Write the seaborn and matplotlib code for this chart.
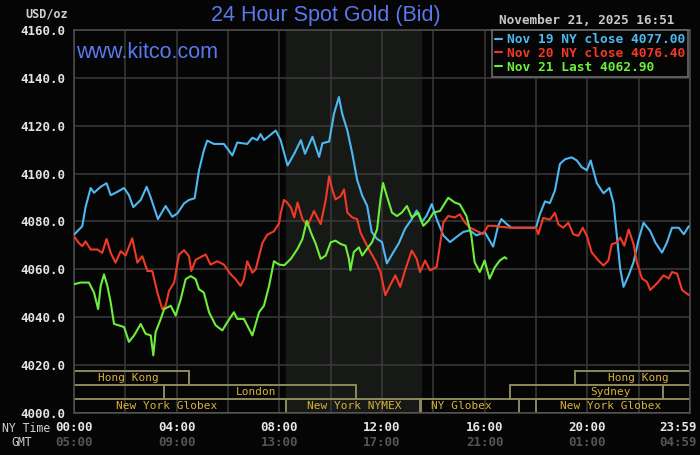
import matplotlib
matplotlib.use("Agg")
import pandas as pd
import seaborn as sns
from matplotlib import pyplot as plt
from matplotlib.patches import Rectangle

# NY-time hours and bid prices
nov19_hours = [0.0, 0.32, 0.45, 0.65, 0.78, 1.04, 1.27, 1.43, 1.69, 1.95, 2.14, 2.31, 2.6, 2.83, 2.99,
               3.27, 3.57, 3.83, 4.03, 4.29, 4.48, 4.7, 4.87, 5.06, 5.19, 5.45, 5.84, 6.17, 6.36, 6.75,
               6.95, 7.14, 7.27, 7.4, 7.86, 8.05, 8.32, 8.58, 8.84, 9.0, 9.29, 9.55, 9.68, 9.94, 10.13,
               10.32, 10.45, 10.65, 10.84, 11.03, 11.23, 11.42, 11.6, 11.8, 12.0, 12.19, 12.45, 12.65,
               12.9, 13.16, 13.35, 13.55, 13.74, 13.94, 14.13, 14.39, 14.65, 14.9, 15.16, 15.42, 15.68,
               16.0, 16.33, 16.52, 16.65, 16.85, 17.04, 18.0, 18.15, 18.35, 18.54, 18.74, 18.93, 19.13,
               19.39, 19.59, 19.78, 19.98, 20.13, 20.37, 20.63, 20.86, 21.02, 21.15, 21.28, 21.41, 21.61,
               21.8, 22.0, 22.19, 22.45, 22.65, 22.91, 23.1, 23.3, 23.56, 23.76, 23.95]
nov19_prices = [4074.5, 4078, 4086, 4094, 4092, 4094.5, 4096, 4091, 4092.4, 4094, 4091, 4086, 4089, 4094.5,
                4090, 4081, 4086.5, 4082, 4083.4, 4087.6, 4089, 4089.7, 4101.4, 4109.7, 4113.8, 4112.4,
                4112.4, 4107.6, 4113, 4112.4, 4115, 4114, 4116.5, 4114, 4118, 4114, 4103.4, 4108.3, 4114,
                4108.3, 4115.4, 4107, 4112.7, 4113.4, 4125, 4132, 4125, 4118, 4108.5, 4097.5, 4090.8,
                4086.6, 4075.6, 4072.8, 4071.4, 4062.5, 4067.3, 4070.8, 4077, 4081, 4084.6, 4079.7,
                4082.5, 4087.3, 4081, 4074.2, 4071.4, 4073.5, 4075.6, 4076.3, 4074.2, 4075.6, 4069.5,
                4078, 4081, 4079, 4077.4, 4077.4, 4083, 4088.4, 4087.7, 4093, 4104, 4106, 4106.8, 4105.5,
                4102.7, 4101.4, 4105.5, 4096, 4091.8, 4094, 4087.7, 4074, 4060.3, 4052.7, 4057.5, 4063,
                4072.6, 4079.5, 4076, 4071.2, 4067, 4071.2, 4077.4, 4077.4, 4074.7, 4078]

nov20_hours = [0.0, 0.19, 0.32, 0.45, 0.65, 0.91, 1.1, 1.27, 1.43, 1.62, 1.82, 2.01, 2.27, 2.47, 2.66,
               2.86, 3.05, 3.25, 3.44, 3.57, 3.7, 3.9, 4.09, 4.29, 4.48, 4.57, 4.74, 5.0, 5.13, 5.32,
               5.58, 5.84, 6.1, 6.3, 6.49, 6.62, 6.75, 6.95, 7.08, 7.34, 7.53, 7.79, 7.99, 8.06, 8.18,
               8.3, 8.45, 8.58, 8.71, 8.9, 9.1, 9.35, 9.61, 9.81, 9.94, 10.06, 10.19, 10.39, 10.52,
               10.65, 10.84, 11.03, 11.16, 11.35, 11.55, 11.74, 11.94, 12.13, 12.32, 12.52, 12.71,
               12.9, 13.16, 13.35, 13.48, 13.68, 13.87, 14.13, 14.39, 14.58, 14.84, 15.03, 15.23,
               15.42, 15.68, 15.94, 16.13, 16.39, 16.6, 17.0, 18.0, 18.09, 18.28, 18.54, 18.74, 18.87,
               19.06, 19.26, 19.45, 19.65, 19.82, 19.98, 20.17, 20.43, 20.63, 20.82, 20.95, 21.15,
               21.28, 21.44, 21.61, 21.8, 21.93, 22.13, 22.32, 22.45, 22.71, 22.97, 23.17, 23.3, 23.5,
               23.69, 23.95]
nov20_prices = [4073.8, 4071, 4069.7, 4071.7, 4068.3, 4068.3, 4066.9, 4072.7, 4066.9, 4062.8, 4067.6,
                4065.8, 4073, 4062.8, 4065.5, 4059.3, 4059.3, 4050.3, 4043.4, 4044.8, 4051, 4054.5,
                4066.2, 4068, 4065.5, 4059.3, 4064, 4065.5, 4066.2, 4062, 4063.4, 4062, 4058, 4055.9,
                4053.1, 4055.9, 4063.4, 4058.6, 4060, 4071, 4074.5, 4075.9, 4079.3, 4083.7, 4089, 4088,
                4085.8, 4081.7, 4087.9, 4081, 4078.2, 4084.4, 4078.9, 4089.2, 4098.9, 4093.4, 4089.2,
                4090.6, 4093.4, 4083.7, 4081.7, 4081, 4075.4, 4071.3, 4067.2, 4063.7, 4058.9, 4049.2,
                4053.4, 4057.5, 4052.7, 4059.6, 4067.9, 4064.4, 4058.9, 4063.7, 4059.6, 4061, 4079.6,
                4082.3, 4081.7, 4083, 4079.6, 4077.5, 4076.1, 4074.8, 4078.2, 4078.2, 4077.8, 4077.4,
                4077.4, 4074.7, 4081.5, 4080.8, 4083.6, 4078.8, 4077.4, 4079.5, 4074.7, 4074, 4077.4,
                4074, 4067.1, 4063.7, 4061.6, 4063.7, 4070.5, 4071.2, 4073.3, 4069.9, 4076.7, 4070.5,
                4063, 4056.2, 4054.8, 4051.4, 4054.1, 4057.5, 4056.2, 4058.9, 4058.2, 4051.4, 4049.3]

nov21_hours = [0.0, 0.26, 0.58, 0.78, 0.94, 1.04, 1.17, 1.3, 1.43, 1.56, 1.75, 1.95, 2.14, 2.34, 2.6,
               2.79, 2.99, 3.09, 3.18, 3.38, 3.51, 3.77, 3.96, 4.16, 4.35, 4.55, 4.74, 4.87, 5.06, 5.26,
               5.52, 5.78, 5.97, 6.23, 6.36, 6.62, 6.95, 7.21, 7.4, 7.6, 7.79, 7.99, 8.19, 8.45, 8.71,
               8.9, 9.07, 9.23, 9.42, 9.61, 9.81, 10.0, 10.19, 10.39, 10.58, 10.71, 10.77, 10.9, 11.1,
               11.23, 11.42, 11.61, 11.81, 11.94, 12.04, 12.19, 12.39, 12.58, 12.77, 12.97, 13.16,
               13.42, 13.61, 13.81, 14.0, 14.26, 14.58, 14.84, 15.03, 15.29, 15.48, 15.61, 15.81, 16.0,
               16.19, 16.39, 16.59, 16.78, 16.85]
nov21_prices = [4053.8, 4054.5, 4054.5, 4050.3, 4043.4, 4053.1, 4057.9, 4053.1, 4046.2, 4037.2, 4036.6,
                4035.9, 4029.7, 4032.4, 4037.2, 4033.1, 4032.4, 4024.1, 4033.8, 4039.3, 4043.4, 4044.8,
                4040.7, 4047.6, 4055.9, 4057.2, 4055.9, 4051.7, 4050.3, 4042.1, 4036.6, 4034.5, 4037.9,
                4042.1, 4039.3, 4039.3, 4032.4, 4042.1, 4044.8, 4053.1, 4063.4, 4062, 4061.7, 4064.4,
                4068.6, 4072.7, 4080.3, 4075.4, 4070.6, 4064.4, 4065.8, 4071.3, 4072, 4070.6, 4069.9,
                4064.4, 4059.6, 4067.2, 4069.2, 4065.8, 4068.6, 4071.3, 4076.8, 4089.2, 4096.1, 4090.6,
                4083.7, 4082.3, 4083.7, 4086.5, 4081.7, 4083.7, 4078.2, 4080.3, 4083.7, 4084.4, 4089.9,
                4087.9, 4087.2, 4082.3, 4074.1, 4063, 4058.9, 4063.7, 4056.1, 4060.8, 4063.7, 4065.1,
                4064.5]

series_names = ["Nov 19 NY close", "Nov 20 NY close", "Nov 21 Last"]
series_values = [4077.00, 4076.40, 4062.90]
series_colors = ["#4db8f0", "#f03a26", "#6cef3a"]

price_ticks = [4000, 4020, 4040, 4060, 4080, 4100, 4120, 4140, 4160]
tick_hours = [0, 4, 8, 12, 16, 20, 23 + 59 / 60]
ny_labels = ["00:00", "04:00", "08:00", "12:00", "16:00", "20:00", "23:59"]
gmt_labels = ["05:00", "09:00", "13:00", "17:00", "21:00", "01:00", "04:59"]

# trading sessions: name, start hour, end hour, row (0 = bottom), label hour
sessions = [
    ("Hong Kong", 0.0, 4.47, 2, 2.1),
    ("London", 3.5, 10.97, 1, 7.1),
    ("New York Globex", 0.0, 8.25, 0, 3.6),
    ("New York NYMEX", 8.25, 13.5, 0, 10.9),
    ("NY Globex", 13.5, 17.33, 0, 15.1),
    ("New York Globex", 18.0, 24.0, 0, 20.9),
    ("Sydney", 17.0, 22.93, 1, 20.9),
    ("Hong Kong", 19.52, 24.0, 2, 22.0),
]
nymex_start, nymex_end = 8.25, 13.5

MONO = "DejaVu Sans Mono"
BG = "#050505"

sns.set_style("dark")
plt.rcParams["font.family"] = ["DejaVu Sans"]

labels = [f"{n} {v:.2f}" for n, v in zip(series_names, series_values)]
frames = []
for lab, hrs, prs in zip(labels, [nov19_hours, nov20_hours, nov21_hours],
                         [nov19_prices, nov20_prices, nov21_prices]):
    frames.append(pd.DataFrame({"hour": hrs, "price": prs, "series": lab}))
df = pd.concat(frames, ignore_index=True)

fig = plt.figure(figsize=(7, 4.55), dpi=100, facecolor=BG)
ax = fig.add_axes([74 / 700, 42 / 455, 616 / 700, 383 / 455])
ax.set_facecolor(BG)

ax.axvspan(nymex_start, nymex_end, color="#171917", zorder=0)

sns.lineplot(data=df, x="hour", y="price", hue="series", palette=dict(zip(labels, series_colors)),
             sort=False, estimator=None, linewidth=1.5, ax=ax, zorder=3)

ax.set_xlim(0, 24)
ax.set_ylim(price_ticks[0], price_ticks[-1])
ax.set_yticks(price_ticks)
ax.set_yticklabels([f"{p:.1f}" for p in price_ticks], fontfamily=MONO, fontweight="bold",
                   fontsize=9, color="#e2e2e2")
ax.set_xticks(tick_hours)
ax.set_xticklabels([])
ax.set_xticks(range(0, 25, 2), minor=True)
ax.tick_params(axis="both", which="both", length=0)
ax.tick_params(axis="y", pad=6)
ax.set_xlabel("")
ax.set_ylabel("")
ax.grid(which="both", color="#3a3a3a", linewidth=1.1)
ax.set_axisbelow(True)
for s in ax.spines.values():
    s.set_color("#4a4a4a")
    s.set_linewidth(1.2)

# NY time and GMT rows; the last pair is pulled in so it stays on the canvas
xt = ax.get_xaxis_transform()
for i, (h, ny, g) in enumerate(zip(tick_hours, ny_labels, gmt_labels)):
    last = i == len(tick_hours) - 1
    hx = 24.27 if last else h
    ha = "right" if last else "center"
    ax.text(hx, -0.037, ny, transform=xt, ha=ha, va="center", fontfamily=MONO,
            fontweight="bold", fontsize=9, color="#e6e6e6", clip_on=False)
    ax.text(hx, -0.078, g, transform=xt, ha=ha, va="center", fontfamily=MONO,
            fontweight="bold", fontsize=9, color="#555555", clip_on=False)

# session boxes
row_h = 17.5 / 3
for name, start, end, row, lab_h in sessions:
    y0 = price_ticks[0] + row * row_h
    ax.add_patch(Rectangle((start, y0), end - start, row_h, fill=False, edgecolor="#8c8a5c",
                           linewidth=1.4, zorder=2))
    ax.text(lab_h, y0 + row_h / 2, name, ha="center", va="center", fontfamily=MONO,
            fontsize=8, color="#d8b23a", zorder=4)

leg = ax.legend(loc="upper right", bbox_to_anchor=(0.997, 1.0), borderaxespad=0,
                frameon=True, facecolor=BG, edgecolor="#6a6a6a", framealpha=1,
                labelcolor="linecolor", handlelength=0.5, handletextpad=0.4,
                borderpad=0.25, labelspacing=0.05,
                prop={"family": MONO, "size": 9.3, "weight": "bold"})
leg.get_frame().set_boxstyle("square", pad=0)
leg.get_frame().set_linewidth(1.2)

fig.text(326 / 700, 1 - 16 / 455, "24 Hour Spot Gold (Bid)", ha="center", va="center",
         fontfamily="Liberation Sans", fontsize=15.5, color="#5a78f0")
fig.text(76 / 700, 1 - 53 / 455, "www.kitco.com", ha="left", va="center",
         fontfamily="Liberation Sans", fontsize=15.5, color="#5a78f0")
fig.text(68 / 700, 1 - 14 / 455, "USD/oz", ha="right", va="center", fontfamily=MONO,
         fontweight="bold", fontsize=8.5, color="#d0d0d0")
fig.text(587 / 700, 1 - 21 / 455, "November 21, 2025 16:51", ha="center", va="center",
         fontfamily=MONO, fontweight="bold", fontsize=9.2, color="#c8c8c8")
fig.text(26 / 700, 1 - 428 / 455, "NY Time", ha="center", va="center", fontfamily=MONO,
         fontsize=8.3, color="#d0d0d0")
fig.text(22 / 700, 1 - 443 / 455, "GMT", ha="center", va="center", fontfamily=MONO,
         fontsize=8.3, color="#d0d0d0")

fig.savefig("out.png", dpi=100, facecolor=BG)
